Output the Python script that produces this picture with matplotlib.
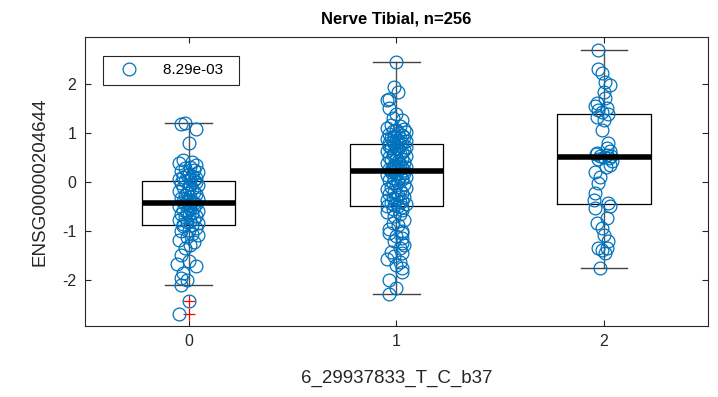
import numpy as np
import matplotlib
matplotlib.use('Agg')
import matplotlib.pyplot as plt

plt.rcParams['font.family'] = ['Liberation Sans', 'DejaVu Sans']
plt.rcParams['axes.unicode_minus'] = False

groups = [0, 1, 2]

g0 = [1.20, 1.17, 1.08, 0.79, 0.45, 0.40, 0.38, 0.35, 0.30, 0.28, 0.25, 0.22, 0.20, 0.16, 0.14, 0.12, 0.10, 0.08, 0.06, 0.05, 0.03,
      0.01, 0.00, -0.02, -0.04, -0.07, -0.10, -0.12, -0.15, -0.18, -0.20, -0.22, -0.25, -0.27, -0.30, -0.32, -0.34, -0.36, -0.38, -0.40, -0.41, -0.42,
      -0.44, -0.45, -0.47, -0.50, -0.52, -0.55, -0.58, -0.60, -0.62, -0.64, -0.66, -0.68, -0.70, -0.72, -0.75, -0.77, -0.79, -0.81, -0.83, -0.85, -0.88,
      -0.90, -0.93, -0.97, -1.00, -1.05, -1.08, -1.12, -1.18, -1.22, -1.28, -1.35, -1.48, -1.60, -1.67, -1.72, -1.85, -1.95, -2.00, -2.09, -2.42, -2.68]
j0 = [-2, -4, 4, 0, -3, 2, -5, 4, 1, -2, 3, -4, 5, 0, -1, 2, -3, 4, -5, 1, 3,
      -2, 4, -4, 1, 5, -3, 0, 2, -5, 3, -1, 4, -2, 1, -4, 5, 0, -3, 2, -1, 3,
      4, -2, 0, -5, 3, 1, -3, 5, -1, 2, -4, 0, 4, -2, 3, -5, 1, -1, 5, -3, 2,
      -3, 4, 0, -4, 2, 5, -1, -5, 3, 1, -2, -4, 0, -6, 4, -3, -4, -1, -4, 0, -5]

g1 = [2.44, 1.93, 1.83, 1.69, 1.67, 1.50, 1.38, 1.30, 1.26, 1.16, 1.13, 1.10, 1.08, 1.06, 1.04, 1.02, 1.00, 0.98, 0.96, 0.94, 0.92, 0.90, 0.89, 0.87, 0.86, 0.84, 0.83, 0.82, 0.80, 0.79, 0.78,
      0.76, 0.74, 0.72, 0.70, 0.68, 0.66, 0.64, 0.62, 0.60, 0.58, 0.56, 0.54, 0.52, 0.50, 0.48, 0.46, 0.44, 0.42, 0.40, 0.38, 0.36, 0.34, 0.32, 0.30, 0.29, 0.28, 0.27, 0.26, 0.25, 0.24, 0.23,
      0.21, 0.19, 0.17, 0.15, 0.12, 0.10, 0.08, 0.05, 0.03, 0.00, -0.02, -0.05, -0.07, -0.10, -0.12, -0.15, -0.17, -0.20, -0.22, -0.25, -0.27, -0.30, -0.32, -0.34, -0.36, -0.38, -0.40, -0.42, -0.44, -0.46, -0.48,
      -0.50, -0.52, -0.55, -0.57, -0.61, -0.65, -0.70, -0.77, -0.83, -0.88, -0.95, -1.00, -1.04, -1.04, -1.10, -1.14, -1.20, -1.24, -1.28, -1.35, -1.42, -1.45, -1.50, -1.57, -1.62, -1.70, -1.75, -1.83, -2.00, -2.15, -2.29]
j1 = [0, -1, 1, -4, -5, -4, 0, -2, 3, -3, 2, -5, 4, 0, -2, 5, 1, -4, 3, -1, 4, -3, 2, -5, 0, 5, -2, 1, -4, 3, -1,
      2, -4, 5, 0, -3, 1, 4, -5, 3, -1, 2, -2, 5, -4, 0, 3, -3, 1, 4, -5, 2, -1, 0, 5, -2, 3, -4, 1, -3, 4, -1,
      -3, 4, 0, -5, 2, 5, -1, 3, -4, 1, -2, 4, 0, -3, 5, -5, 2, -1, 3, -4, 1, 4, -2, 0, -5, 3, 2, -3, 5, -1, 1,
      -5, 3, -2, 3, -5, 2, -1, 4, -2, 1, -4, 3, -4, 3, 0, 3, -1, 3, 4, 2, -3, 3, -1, -5, 2, 0, 3, 3, -4, 0, -4]

g2 = [2.68, 2.30, 2.22, 2.03, 1.97, 1.83, 1.71, 1.61, 1.55, 1.50, 1.46, 1.42,
      1.38, 1.32, 1.26, 1.06, 0.79, 0.69, 0.62, 0.58, 0.56, 0.55, 0.53, 0.52,
      0.50, 0.48, 0.46, 0.42, 0.35, 0.30, 0.20, 0.10, -0.02, -0.22, -0.37, -0.43,
      -0.50, -0.53, -0.73, -0.83, -0.93, -1.08, -1.20, -1.34, -1.34, -1.38, -1.45, -1.75]
j2 = [-3, -3, -1, 0.5, 3, 0, 0.5, -4, -5, 1.5, -3, -1,
      2, -3.5, 0, -1, 2, 1.5, 3, -4, -4.5, 1.5, 3.5, -2,
      0, 2.5, -3, 4, 3, 1, -5, -2, -3, -5, -5.5, 2,
      3, -5, 1.5, -4, -1, 0, 2, -3, 1.5, -1, 0.5, -2]

data = [g0, g1, g2]
jitter = [j0, j1, j2]
pval_label = '8.29e-03'

fig = plt.figure(figsize=(7.18, 3.97), dpi=100)
ax = fig.add_axes([0.118, 0.179, 0.868, 0.728])

bp = ax.boxplot(data, positions=groups, widths=0.45, whis=1.5,
                patch_artist=False, manage_ticks=False,
                boxprops=dict(color='black', linewidth=0.9),
                medianprops=dict(color='black', linewidth=4, solid_capstyle='butt'),
                whiskerprops=dict(color='#555555', linewidth=1.0),
                capprops=dict(color='#444444', linewidth=1.0),
                flierprops=dict(marker='+', markeredgecolor='red', markersize=8, markeredgewidth=0.9))
for cap in bp['caps']:
    xd = cap.get_xdata()
    c = (xd[0] + xd[1]) / 2
    cap.set_xdata([c - 0.1125, c + 0.1125])

for i, (vals, jit) in enumerate(zip(data, jitter)):
    xs = groups[i] + np.array(jit) / 110.0
    h, = ax.plot(xs, vals, 'o', markerfacecolor='none', markeredgecolor='#0072BD',
                 markersize=9.2, markeredgewidth=0.9, linestyle='none')
    if i == 0:
        handle = h

ax.set_xlim(-0.5, 2.5)
ax.set_ylim(-2.93, 2.95)
ax.set_xticks(groups)
ax.set_yticks([-2, -1, 0, 1, 2])
ax.tick_params(direction='in', top=True, right=True, labelsize=11.5, length=4, width=0.8,
               color='#262626', labelcolor='#262626', pad=6)
for s in ax.spines.values():
    s.set_color('#262626')
    s.set_linewidth(0.8)

ax.set_title('Nerve Tibial, n=256', fontsize=12, fontweight='bold', pad=10)
ax.set_xlabel('6_29937833_T_C_b37', fontsize=13.5, labelpad=15, color='#262626')
ax.set_ylabel('ENSG00000204644', fontsize=13.5, labelpad=10, color='#262626')

leg = ax.legend([handle], [pval_label], loc='upper left', bbox_to_anchor=(0.017, 0.962),
                fancybox=False, edgecolor='#262626', framealpha=1, fontsize=11,
                handlelength=2.4, handletextpad=1.0, borderpad=0.5)
leg.get_frame().set_linewidth(0.8)
for t in leg.get_texts():
    t.set_text(pval_label + '  ')

fig.savefig('out.png', dpi=100)
